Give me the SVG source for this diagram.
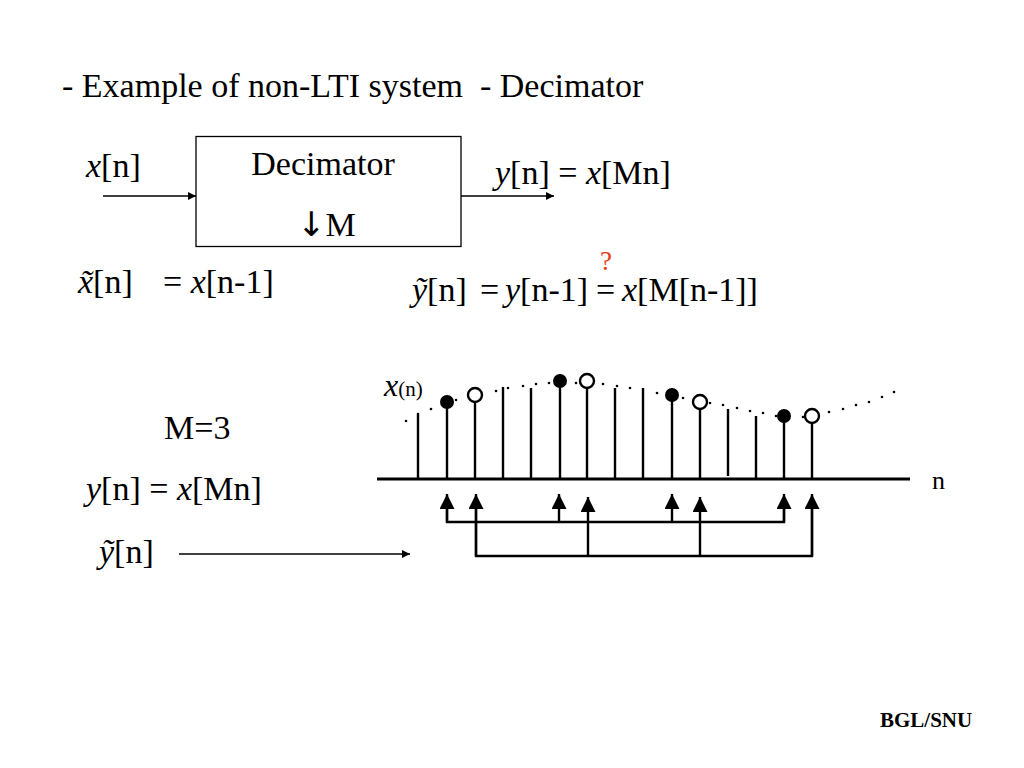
<svg xmlns="http://www.w3.org/2000/svg" width="1024" height="768" viewBox="0 0 1024 768">
<defs>
<style>
text{font-family:"Liberation Serif","Times New Roman",serif;fill:#000}
.t{font-size:34px}
.i{font-style:italic}
.stem{stroke:#000;stroke-width:2.4;fill:none}
.conn{stroke:#000;stroke-width:2.4;fill:none}
.thin{stroke:#000;stroke-width:1.5;fill:none}
.dot{fill:#000}
</style>
<marker id="ah" viewBox="0 0 10 10" refX="10" refY="5" markerWidth="10" markerHeight="8" markerUnits="userSpaceOnUse" orient="auto">
<path d="M0,0 L10,5 L0,10 z" fill="#000"/>
</marker>
<marker id="big" viewBox="0 0 10 10" refX="10" refY="5" markerWidth="15" markerHeight="15" markerUnits="userSpaceOnUse" orient="auto">
<path d="M0,0 L10,5 L0,10 z" fill="#000"/>
</marker>
</defs>
<rect width="1024" height="768" fill="#fff"/>

<text class="t" x="62" y="97" xml:space="preserve">- Example of non-LTI system  - Decimator</text>

<g id="decimator">
<rect x="196" y="136.5" width="265" height="110" fill="#fff" stroke="#000" stroke-width="1.3"/>
<text class="t" x="323" y="175" text-anchor="middle">Decimator</text>
<text class="t" x="297" y="236"><tspan style="font-family:'DejaVu Sans',sans-serif;font-size:34px">↓</tspan>M</text>
</g>

<g id="input-label"><text class="t" x="86" y="177"><tspan class="i">x</tspan>[n]</text></g>
<g id="output-label"><text class="t" x="495" y="184"><tspan class="i">y</tspan>[n] = <tspan class="i">x</tspan>[Mn]</text></g>

<g id="connectors">
<line class="thin" x1="103" y1="196" x2="196" y2="196" marker-end="url(#ah)"/>
<line class="thin" x1="461" y1="196" x2="554" y2="196" marker-end="url(#ah)"/>
<line class="thin" x1="179" y1="554" x2="410" y2="554" marker-end="url(#ah)"/>
<polyline class="conn" points="447,509 447,522 784,522 784,509"/>
<line class="conn" x1="447" y1="522" x2="447" y2="494" marker-end="url(#big)"/>
<line class="conn" x1="559" y1="522" x2="559" y2="494" marker-end="url(#big)"/>
<line class="conn" x1="672" y1="522" x2="672" y2="494" marker-end="url(#big)"/>
<line class="conn" x1="784" y1="522" x2="784" y2="494" marker-end="url(#big)"/>
<polyline class="conn" points="476,509 476,556 812,556 812,509"/>
<line class="conn" x1="476" y1="556" x2="476" y2="494" marker-end="url(#big)"/>
<line class="conn" x1="588" y1="556" x2="588" y2="497" marker-end="url(#big)"/>
<line class="conn" x1="700" y1="556" x2="700" y2="497" marker-end="url(#big)"/>
<line class="conn" x1="812" y1="556" x2="812" y2="494" marker-end="url(#big)"/>
</g>

<g id="formula-x">
<text class="t" x="78" y="293"><tspan class="i">x̃</tspan>[n]</text>
<text class="t" x="163" y="293">= <tspan class="i">x</tspan>[n-1]</text>
</g>
<g id="formula-y">
<text class="t" x="412" y="301"><tspan class="i">ỹ</tspan>[n]</text>
<text class="t" x="480" y="301">=</text>
<text class="t" x="505" y="301"><tspan class="i">y</tspan>[n-1]</text>
<text class="t" x="596" y="301">=</text>
<text class="t" x="622" y="301"><tspan class="i">x</tspan>[M[n-1]]</text>
<text x="600" y="270" style="font-size:27px;fill:#e8401c">?</text>
</g>

<g id="left-notes">
<text class="t" x="164" y="439">M=3</text>
<text class="t" x="86" y="500"><tspan class="i">y</tspan>[n] = <tspan class="i">x</tspan>[Mn]</text>
<text class="t" x="99" y="563"><tspan class="i">ỹ</tspan>[n]</text>
</g>

<g id="signal-plot">
<line x1="377" y1="479" x2="910" y2="479" stroke="#000" stroke-width="3"/>
<text x="932" y="489" style="font-size:26px">n</text>
<text x="384" y="396" style="font-size:32px"><tspan class="i">x</tspan><tspan style="font-size:21px">(n)</tspan></text>
<g id="stems">
<line class="stem" x1="418" y1="479" x2="418" y2="415"/>
<line class="stem" x1="447" y1="479" x2="447" y2="402"/>
<line class="stem" x1="475" y1="479" x2="475" y2="402"/>
<line class="stem" x1="503" y1="479" x2="503" y2="387"/>
<line class="stem" x1="531" y1="479" x2="531" y2="388"/>
<line class="stem" x1="560" y1="479" x2="560" y2="381"/>
<line class="stem" x1="587" y1="479" x2="587" y2="388"/>
<line class="stem" x1="615" y1="479" x2="615" y2="388"/>
<line class="stem" x1="643" y1="479" x2="643" y2="388"/>
<line class="stem" x1="672" y1="479" x2="672" y2="395"/>
<line class="stem" x1="700" y1="479" x2="700" y2="409"/>
<line class="stem" x1="728" y1="476" x2="728" y2="409"/>
<line class="stem" x1="756" y1="479" x2="756" y2="416"/>
<line class="stem" x1="784" y1="479" x2="784" y2="416"/>
<line class="stem" x1="812" y1="479" x2="812" y2="423"/>
</g>
<g id="curve-dots" class="dot">
<circle cx="406" cy="421" r="1.3"/><circle cx="418" cy="414" r="1.3"/><circle cx="431" cy="409" r="1.3"/>
<circle cx="456" cy="400" r="1.3"/><circle cx="496" cy="391" r="1.3"/><circle cx="508" cy="388" r="1.3"/>
<circle cx="523" cy="386" r="1.3"/><circle cx="536" cy="384" r="1.3"/><circle cx="549" cy="383" r="1.3"/>
<circle cx="576" cy="383" r="1.3"/><circle cx="589" cy="383" r="1.3"/><circle cx="603" cy="384" r="1.3"/>
<circle cx="617" cy="386" r="1.3"/><circle cx="630" cy="388" r="1.3"/><circle cx="657" cy="393" r="1.3"/>
<circle cx="683" cy="398" r="1.3"/><circle cx="697" cy="401" r="1.3"/><circle cx="710" cy="403" r="1.3"/>
<circle cx="723" cy="405" r="1.3"/><circle cx="737" cy="408" r="1.3"/><circle cx="750" cy="411" r="1.3"/>
<circle cx="763" cy="413" r="1.3"/><circle cx="776" cy="416" r="1.3"/><circle cx="803" cy="417" r="1.3"/>
<circle cx="816" cy="415" r="1.3"/><circle cx="829" cy="412" r="1.3"/><circle cx="843" cy="409" r="1.3"/>
<circle cx="856" cy="405" r="1.3"/><circle cx="869" cy="402" r="1.3"/><circle cx="882" cy="397" r="1.3"/>
<circle cx="894" cy="392" r="1.3"/>
</g>
<g id="samples">
<circle cx="447" cy="402" r="7" fill="#000"/>
<circle cx="475" cy="395" r="7" fill="#fff" stroke="#000" stroke-width="2.4"/>
<circle cx="560" cy="381" r="7" fill="#000"/>
<circle cx="587" cy="381" r="7" fill="#fff" stroke="#000" stroke-width="2.4"/>
<circle cx="672" cy="395" r="7" fill="#000"/>
<circle cx="700" cy="402" r="7" fill="#fff" stroke="#000" stroke-width="2.4"/>
<circle cx="784" cy="416" r="7" fill="#000"/>
<circle cx="812" cy="416" r="7" fill="#fff" stroke="#000" stroke-width="2.4"/>
</g>
</g>

<text x="880" y="727" style="font-size:21px;font-weight:bold">BGL/SNU</text>
</svg>
